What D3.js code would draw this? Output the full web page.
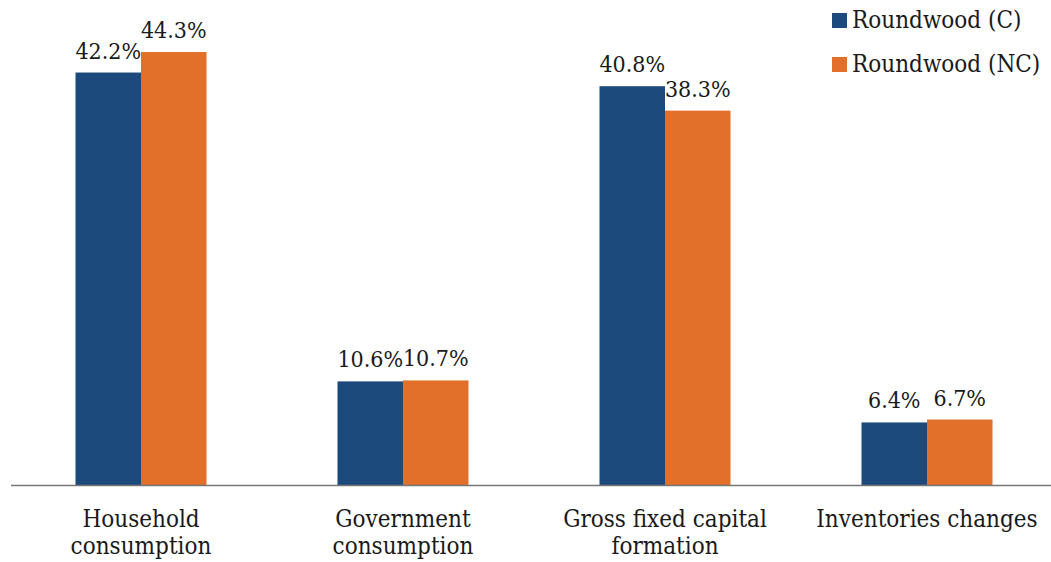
<!DOCTYPE html>
<html>
<head>
<meta charset="utf-8">
<script src="https://cdn.jsdelivr.net/npm/d3@7"></script>
<style>
  body { margin: 0; background: #fff; }
  text { font-family: "DejaVu Serif", serif; font-stretch: condensed; fill: #1a1a1a; }
</style>
</head>
<body>
<svg id="chart"></svg>
<script>
var categories = [['Household', 'consumption'], ['Government', 'consumption'], ['Gross fixed capital', 'formation'], ['Inventories changes']];
var seriesNames = ['Roundwood (C)', 'Roundwood (NC)'];
var valuesC = [42.2, 10.6, 40.8, 6.4];
var valuesNC = [44.3, 10.7, 38.3, 6.7];
var colors = ['#1c4a7d', '#e2702a'];

var width = 1051, height = 562;
var baseY = 485;

var svg = d3.select('#chart').attr('width', width).attr('height', height);

var x = d3.scaleBand()
    .domain(d3.range(categories.length))
    .range([10, 1058])
    .paddingInner(0.5)
    .paddingOuter(0.25);

var xs = d3.scaleBand()
    .domain([0, 1])
    .range([0, x.bandwidth()]);

var y = d3.scaleLinear()
    .domain([0, 44.3])
    .range([baseY, 52]);

var rows = categories.map(function(c, i) {
    return [valuesC[i], valuesNC[i]];
});

var groups = svg.selectAll('.group')
    .data(rows)
    .join('g')
    .attr('class', 'group')
    .attr('transform', (d, i) => 'translate(' + x(i) + ',0)');

groups.selectAll('rect')
    .data(d => d)
    .join('rect')
    .attr('x', (d, j) => xs(j))
    .attr('width', xs.bandwidth())
    .attr('y', d => y(d))
    .attr('height', d => baseY - y(d))
    .attr('fill', (d, j) => colors[j]);

groups.selectAll('.val')
    .data(d => d)
    .join('text')
    .attr('class', 'val')
    .attr('x', (d, j) => xs(j) + xs.bandwidth() / 2)
    .attr('y', d => y(d) - 14)
    .attr('text-anchor', 'middle')
    .attr('font-size', 23)
    .text(d => d.toFixed(1) + '%');

// axis line
svg.append('line')
    .attr('x1', 11).attr('x2', width)
    .attr('y1', baseY + 0.5).attr('y2', baseY + 0.5)
    .attr('stroke', '#777')
    .attr('stroke-width', 1.5);

// category labels
svg.selectAll('.cat')
    .data(categories)
    .join('text')
    .attr('class', 'cat')
    .attr('text-anchor', 'middle')
    .attr('font-size', 24)
    .attr('x', (d, i) => x(i) + x.bandwidth() / 2)
    .attr('y', 527)
    .selectAll('tspan')
    .data(d => d)
    .join('tspan')
    .attr('x', function() { return this.parentNode.getAttribute('x'); })
    .attr('dy', (d, k) => k === 0 ? 0 : 27)
    .text(d => d);

// legend
var legend = svg.selectAll('.legend')
    .data(seriesNames)
    .join('g')
    .attr('class', 'legend')
    .attr('transform', (d, i) => 'translate(832,' + (13 + i * 44) + ')');

legend.append('rect')
    .attr('width', 15)
    .attr('height', 15)
    .attr('fill', (d, i) => colors[i]);

legend.append('text')
    .attr('x', 20)
    .attr('y', 15)
    .attr('font-size', 24)
    .text(d => d);
</script>
</body>
</html>
